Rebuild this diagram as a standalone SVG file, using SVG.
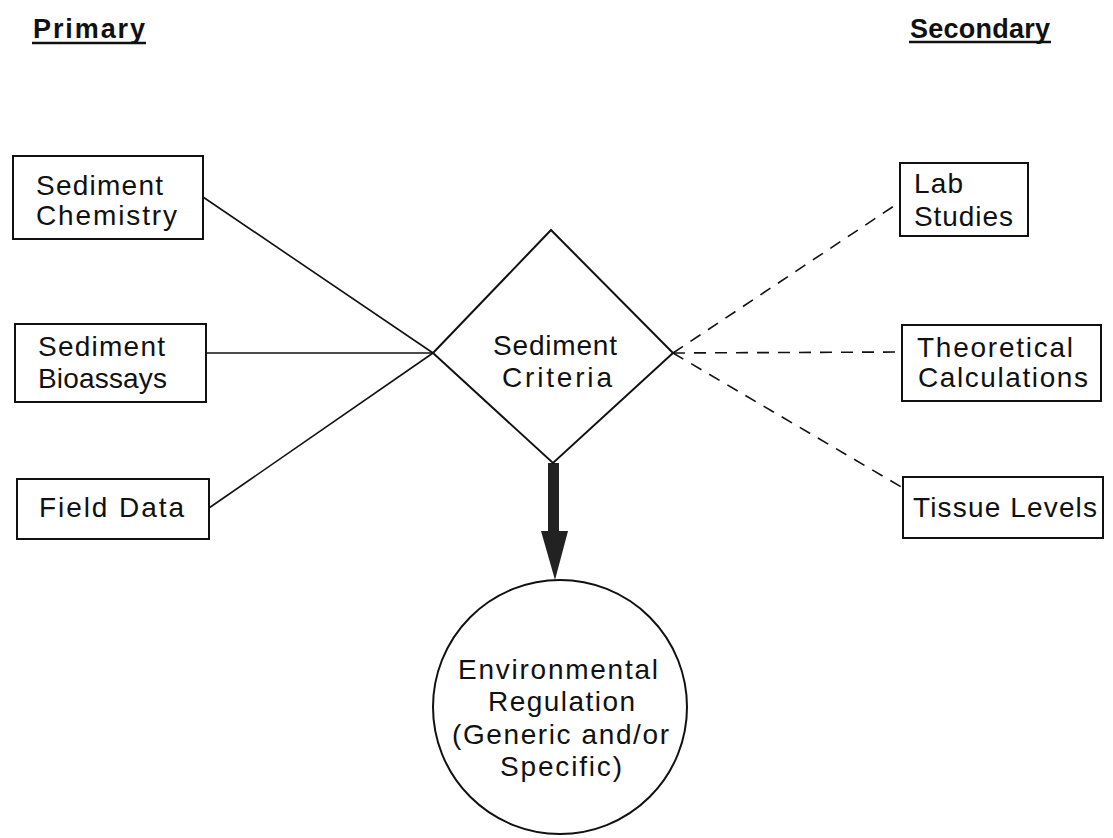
<svg xmlns="http://www.w3.org/2000/svg" width="1113" height="838" viewBox="0 0 1113 838">
<style>
.box{fill:#fff;stroke:#111;stroke-width:2}
.t{font-family:"Liberation Sans",Arial,sans-serif;font-size:28px;fill:#111}
.h{font-family:"Liberation Sans",Arial,sans-serif;font-size:27px;font-weight:bold;fill:#111}
.solid{stroke:#111;stroke-width:1.6;fill:none}
.dash{stroke:#111;stroke-width:1.6;fill:none;stroke-dasharray:12 9}
</style>
<rect width="1113" height="838" fill="#fff"/>
<g id="headings">
<text class="h" x="33" y="38" textLength="112" lengthAdjust="spacing">Primary</text>
<line x1="32" y1="43" x2="146" y2="43" stroke="#111" stroke-width="2.5"/>
<text class="h" x="910" y="38" textLength="140" lengthAdjust="spacing">Secondary</text>
<line x1="909" y1="42" x2="1051" y2="42" stroke="#111" stroke-width="2.5"/>
</g>
<g id="connectors">
<line class="solid" x1="203" y1="197" x2="433" y2="353"/>
<line class="solid" x1="206" y1="353" x2="433" y2="353"/>
<line class="solid" x1="209" y1="508" x2="433" y2="353"/>
<line class="dash" x1="673" y1="353" x2="900" y2="202"/>
<line class="dash" x1="673" y1="353" x2="902" y2="352"/>
<line class="dash" x1="673" y1="353" x2="903" y2="488"/>
<g id="arrow">
<rect x="548" y="463" width="11" height="70" fill="#222"/>
<polygon points="541,531 568,531 555,580" fill="#222"/>
</g>
</g>
<g id="sediment-chemistry">
<rect class="box" x="13" y="156" width="190" height="83"/>
<text class="t" x="36" y="195" textLength="127" lengthAdjust="spacing">Sediment</text>
<text class="t" x="36" y="225" textLength="141" lengthAdjust="spacing">Chemistry</text>
</g>
<g id="sediment-bioassays">
<rect class="box" x="15" y="324" width="191" height="78"/>
<text class="t" x="38" y="356" textLength="127" lengthAdjust="spacing">Sediment</text>
<text class="t" x="38" y="388" textLength="129" lengthAdjust="spacing">Bioassays</text>
</g>
<g id="field-data">
<rect class="box" x="17" y="479" width="192" height="60"/>
<text class="t" x="39" y="517" textLength="145" lengthAdjust="spacing">Field Data</text>
</g>
<g id="sediment-criteria">
<polygon points="551,230 673,353 553,463 433,353" fill="#fff" stroke="#111" stroke-width="2"/>
<text class="t" x="493" y="355" textLength="124" lengthAdjust="spacing">Sediment</text>
<text class="t" x="502" y="387" textLength="110" lengthAdjust="spacing">Criteria</text>
</g>
<g id="lab-studies">
<rect class="box" x="900" y="163" width="128" height="73"/>
<text class="t" x="914" y="193" textLength="49" lengthAdjust="spacing">Lab</text>
<text class="t" x="914" y="226" textLength="99" lengthAdjust="spacing">Studies</text>
</g>
<g id="theoretical-calculations">
<rect class="box" x="902" y="325" width="199" height="76"/>
<text class="t" x="917" y="357" textLength="156" lengthAdjust="spacing">Theoretical</text>
<text class="t" x="918" y="387" textLength="170" lengthAdjust="spacing">Calculations</text>
</g>
<g id="tissue-levels">
<rect class="box" x="903" y="477" width="200" height="61"/>
<text class="t" x="913" y="517" textLength="184" lengthAdjust="spacing">Tissue Levels</text>
</g>
<g id="environmental-regulation">
<circle cx="560" cy="707" r="127" fill="#fff" stroke="#111" stroke-width="2"/>
<text class="t" x="458" y="679" textLength="200" lengthAdjust="spacing">Environmental</text>
<text class="t" x="488" y="711" textLength="147" lengthAdjust="spacing">Regulation</text>
<text class="t" x="452" y="744" textLength="217" lengthAdjust="spacing">(Generic and/or</text>
<text class="t" x="500" y="776" textLength="122" lengthAdjust="spacing">Specific)</text>
</g>
</svg>
